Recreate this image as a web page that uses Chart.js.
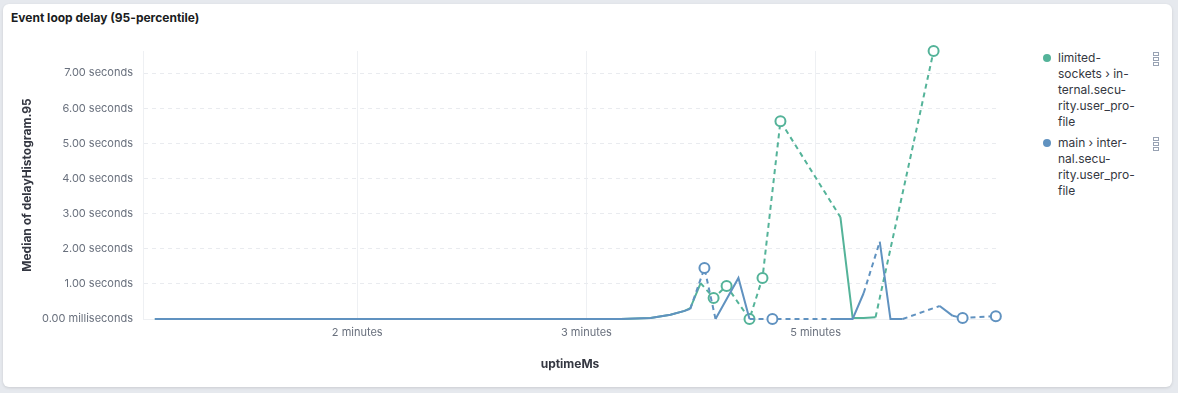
<!DOCTYPE html>
<html>
<head>
<meta charset="utf-8">
<script src="https://cdn.jsdelivr.net/npm/chart.js@4"></script>
<style>
  body { margin: 0; background: #e6e9ee; font-family: Inter, "Noto Sans", sans-serif; }
  #card { position: absolute; left: 3px; top: 4px; width: 1169px; height: 383px; background: #fff;
          border-radius: 6px; box-shadow: 0 1px 3px rgba(0,0,0,0.12); }
  #title { position: absolute; left: 11px; top: 10px; font-size: 12px; font-weight: 700; color: #1a1c21; }
  #myChart { position: absolute; left: 0; top: 0; }
  #legend { position: absolute; left: 1041px; top: 50px; width: 130px; font-size: 12px; color: #343741; }
  .item { position: relative; padding-left: 17px; line-height: 16px; margin-bottom: 5px; white-space: nowrap; }
  .dot { position: absolute; left: 2px; top: 4px; width: 8px; height: 8px; border-radius: 50%; }
  .menu { position: absolute; left: 112px; top: 2px; display: block; }
  .menu i { display: block; width: 4px; height: 2px; border: 1px solid #98a2b3; margin-bottom: 1px; }
</style>
</head>
<body>
<div id="card"></div>
<div id="title">Event loop delay (95-percentile)</div>
<canvas id="myChart" width="1010" height="393"></canvas>
<div id="legend"></div>
<script>
// uptime in seconds, values in seconds (null = no bucket)
var limitedX = [67, 90, 115, 140, 165, 189, 196.8, 202, 205.7, 207.2, 209.9, 211.6, 213.3, 215, 216.7, 219.7, 222.7, 224.4, 226.1, 228.5, 230.8, 238, 246.5, 249.7, 252.6, 255.7, 263, 270.9];
var limitedY = [0, 0, 0, 0, 0, 0, 0.03, 0.12, 0.23, 0.31, 1.02, null, 0.60, null, 0.94, null, 0, null, 1.17, null, 5.63, null, 2.90, 0.03, 0.03, 0.05, null, 7.63];

var mainX = [67, 90, 115, 140, 165, 189, 196.8, 202, 205.7, 207.2, 209, 210.9, 212.4, 213.8, 219.8, 222.7, 225.7, 228.7, 236, 243.9, 249.7, 252.6, 254.7, 256.8, 259.6, 262.8, 267.5, 272.5, 275.9, 277.2, 278.5, 283, 287.2];
var mainY = [0, 0, 0, 0, 0, 0, 0.03, 0.12, 0.23, 0.29, null, 1.45, null, 0, 1.17, 0, null, 0, null, 0, 0, 0.74, null, 2.2, 0, 0, null, 0.37, 0.09, null, 0.03, null, 0.08];

var seriesNames = ['limited-<br>sockets › in-<br>ternal.secu-<br>rity.user_pro-<br>file', 'main › inter-<br>nal.secu-<br>rity.user_pro-<br>file'];
var seriesColors = ['#54b399', '#6092c0'];

var xTickValues = [120, 180, 240];
var xTickLabels = ['2 minutes', '3 minutes', '5 minutes'];
var yTickLabels = ['0.00 milliseconds', '1.00 seconds', '2.00 seconds', '3.00 seconds', '4.00 seconds', '5.00 seconds', '6.00 seconds', '7.00 seconds'];

function toPoints(xs, ys) {
    return xs.map(function (x, i) { return { x: x, y: ys[i] }; });
}

// a point with no neighbour on either side gets a circle
function isolated(ctx) {
    var d = ctx.dataset.data;
    var i = ctx.dataIndex;
    if (d[i] == null || d[i].y == null) return false;
    var prev = i > 0 ? d[i - 1].y : null;
    var next = i < d.length - 1 ? d[i + 1].y : null;
    return prev == null && next == null;
}

function makeSet(label, xs, ys, color) {
    return {
        label: label,
        data: toPoints(xs, ys),
        borderColor: color,
        backgroundColor: '#fff',
        borderWidth: 2,
        tension: 0,
        spanGaps: true,
        clip: false,
        pointRadius: function (ctx) { return isolated(ctx) ? 5 : 0; },
        pointBorderWidth: 2,
        pointBorderColor: color,
        pointBackgroundColor: '#fff',
        segment: {
            borderDash: function (ctx) { return (ctx.p0.skip || ctx.p1.skip) ? [5, 4] : undefined; }
        }
    };
}

var ctx = document.getElementById('myChart').getContext('2d');
var chart = new Chart(ctx, {
    type: 'line',
    data: {
        datasets: [
            makeSet('main', mainX, mainY, seriesColors[1]),
            makeSet('limited-sockets', limitedX, limitedY, seriesColors[0])
        ]
    },
    options: {
        responsive: false,
        animation: false,
        events: [],
        layout: { padding: { left: 10, right: 13, top: 51, bottom: 14 } },
        plugins: { legend: { display: false }, tooltip: { enabled: false } },
        scales: {
            x: {
                type: 'linear',
                min: 63.9,
                max: 287.5,
                afterFit: function (scale) { scale.height = 60; },
                afterBuildTicks: function (scale) {
                    scale.ticks = xTickValues.map(function (v) { return { value: v }; });
                },
                ticks: {
                    padding: 7,
                    maxRotation: 0,
                    color: '#69707d',
                    font: { family: 'Inter', size: 11 },
                    callback: function (v) {
                        var i = xTickValues.indexOf(v);
                        return i >= 0 ? xTickLabels[i] : '';
                    }
                },
                grid: { color: '#eef0f3', drawTicks: false },
                border: { color: '#eef0f3' },
                title: {
                    display: true,
                    text: 'uptimeMs',
                    color: '#343741',
                    font: { family: 'Inter', size: 12, weight: 'bold' },
                    padding: { top: 4, bottom: 7 }
                }
            },
            y: {
                min: 0,
                max: 7.63,
                afterFit: function (scale) { scale.width = 133; },
                ticks: {
                    stepSize: 1,
                    includeBounds: false,
                    padding: 10,
                    color: '#69707d',
                    font: { family: 'Inter', size: 11 },
                    callback: function (v) { return yTickLabels[v]; }
                },
                grid: { color: '#e9ebef', drawTicks: false },
                border: { color: '#eef0f3', dash: [4, 4] },
                title: {
                    display: true,
                    text: 'Median of delayHistogram.95',
                    color: '#343741',
                    font: { family: 'Inter', size: 12, weight: 'bold' },
                    padding: { top: 10, bottom: 4 }
                }
            }
        }
    }
});

// legend
var legend = document.getElementById('legend');
for (var i = 0; i < seriesNames.length; i++) {
    var item = document.createElement('div');
    item.className = 'item';
    item.innerHTML = '<span class="dot" style="background:' + seriesColors[i] + '"></span>' + seriesNames[i] +
        '<span class="menu"><i></i><i></i><i></i></span>';
    legend.appendChild(item);
}
</script>
</body>
</html>
